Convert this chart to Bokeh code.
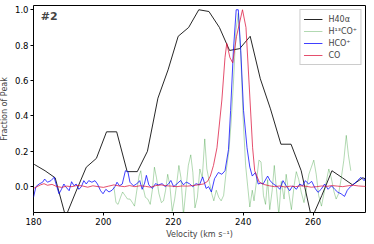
from bokeh.plotting import figure
from bokeh.models import Range1d, PrintfTickFormatter, Legend, LegendItem, Label, FixedTicker
from bokeh.embed import file_html
from bokeh.resources import INLINE

# H40alpha recombination line
h40_v = [177.4, 180.3, 183.3, 186.2, 189.2, 192.1, 195.1, 198.0, 200.9, 203.8, 206.8, 209.7,
         212.6, 215.6, 218.5, 221.4, 224.4, 227.3, 230.2, 233.2, 236.1, 239.0, 242.0, 244.9,
         247.8, 250.8, 253.7, 256.6, 259.6, 262.5, 265.4, 268.4, 271.3, 274.2, 277.2]
h40_f = [0.16, 0.125, 0.09, 0.05, -0.17, -0.03, 0.11, 0.16, 0.31, 0.31, 0.085, 0.085,
         0.20, 0.50, 0.66, 0.85, 0.90, 1.00, 0.99, 0.90, 0.77, 0.78, 0.85, 0.61,
         0.44, 0.24, 0.24, 0.09, -0.18, -0.05, 0.09, 0.05, 0.01, 0.05, 0.03]

# H13CO+
h13_v = [203.0, 203.6, 204.2, 204.9, 205.5, 206.2, 206.9, 207.6, 208.3, 208.9, 209.5, 210.2,
         210.7, 211.3, 212.0, 212.7, 213.4, 214.0, 214.6, 215.2, 215.9, 216.6, 217.2, 217.8,
         218.4, 219.0, 219.7, 220.4, 221.0, 221.6, 222.2, 222.9, 223.6, 224.3, 225.0, 225.6,
         226.2, 226.9, 227.6, 228.3, 229.0, 229.6, 230.3, 231.0, 231.6, 232.3, 233.0, 233.7,
         234.4, 235.2, 235.9, 236.5, 237.2, 237.9, 238.6, 239.3, 240.0, 240.7, 241.3, 241.9,
         242.6, 243.1, 243.8, 244.5, 245.1, 245.8, 246.4, 247.0, 247.6, 248.3, 248.9, 249.5,
         250.2, 250.9, 251.7, 252.3, 253.0, 253.8, 254.6, 255.2, 255.9, 256.6, 257.4, 258.1,
         258.8, 259.5, 260.2, 260.9, 261.6, 262.4, 263.1, 263.8, 264.5, 265.2, 266.0, 266.6,
         267.3, 268.0, 268.8, 269.5, 270.1, 270.8]
h13_f = [0.00, -0.09, -0.10, -0.06, -0.03, -0.05, -0.07, -0.07, -0.09, -0.11, -0.03, 0.06,
         0.09, 0.00, -0.06, -0.07, -0.10, -0.02, 0.11, 0.05, -0.04, -0.09, -0.08, -0.02,
         0.07, 0.01, -0.14, -0.07, 0.02, 0.12, 0.05, -0.16, -0.02, 0.12, 0.18, 0.08,
         -0.12, -0.06, 0.10, 0.05, 0.27, 0.10, 0.03, -0.04, -0.08, -0.02, -0.06, -0.08,
         -0.05, 0.10, 0.20, 0.35, 0.58, 0.88, 0.98, 0.75, 0.38, 0.12, 0.00, -0.115,
         -0.02, -0.08, 0.03, 0.15, 0.14, -0.05, -0.10, 0.04, -0.13, -0.02, 0.12, -0.01,
         -0.16, 0.03, -0.07, 0.07, -0.03, -0.13, 0.01, 0.085, 0.04, -0.03, -0.09, -0.01,
         0.07, 0.11, 0.15, 0.07, -0.05, -0.11, -0.04, 0.03, 0.10, 0.05, -0.03, -0.07,
         -0.04, 0.04, 0.15, 0.29, 0.18, 0.09]

# HCO+
hco_v = [180.0, 180.7, 181.6, 182.6, 183.2, 184.0, 185.0, 185.9, 186.6, 187.3, 188.0, 188.7,
         189.2, 190.2, 190.9, 191.6, 192.2, 193.0, 193.7, 194.4, 195.1, 195.8, 196.7, 197.6,
         198.3, 199.2, 199.9, 200.7, 201.6, 202.5, 203.3, 203.9, 204.6, 205.4, 206.3, 207.0,
         207.6, 208.6, 209.5, 210.4, 211.1, 211.8, 212.3, 213.0, 214.0, 214.9, 215.8, 216.8,
         217.7, 218.7, 219.3, 220.1, 221.1, 222.1, 222.9, 223.7, 224.6, 225.6, 226.5, 227.5,
         228.4, 229.4, 230.1, 230.9, 231.8, 232.9, 233.9, 234.8, 235.8, 236.4, 237.2, 238.0,
         238.6, 239.3, 240.1, 241.1, 241.9, 242.6, 243.5, 244.3, 245.0, 245.7, 247.0, 247.7,
         248.6, 249.5, 250.5, 251.4, 252.3, 253.3, 254.2, 255.2, 256.2, 257.0, 257.8, 258.7,
         259.6, 260.6, 261.4, 262.3, 263.3, 264.3, 265.3, 266.2, 267.1, 268.0, 269.0, 269.8,
         270.7, 271.7, 272.7, 273.7, 274.6, 275.3]
hco_f = [-0.06, 0.0, 0.015, 0.025, 0.043, 0.025, 0.034, 0.053, 0.005, -0.04, -0.015, 0.015,
         0.0, -0.023, 0.028, 0.005, 0.015, -0.015, 0.0, 0.034, 0.015, 0.034, 0.025, 0.034,
         0.015, -0.023, -0.04, -0.015, -0.03, -0.02, 0.0, 0.025, 0.005, 0.015, 0.09, 0.085,
         0.025, 0.005, 0.015, 0.034, -0.015, 0.02, 0.064, 0.01, -0.01, 0.017, 0.01, 0.017,
         0.0, 0.017, 0.035, 0.0, 0.017, 0.035, 0.01, 0.026, 0.017, 0.0, 0.017, 0.01,
         0.055, -0.01, 0.0, -0.03, 0.045, 0.08, 0.07, 0.09, 0.21, 0.43, 0.77, 1.0,
         1.0, 0.77, 0.43, 0.22, 0.11, 0.06, 0.08, 0.015, 0.02, 0.015, 0.06, 0.034,
         0.015, 0.005, -0.015, 0.034, 0.005, -0.023, 0.005, -0.015, 0.015, 0.005, 0.034, 0.015,
         0.03, -0.01, -0.032, -0.015, 0.015, -0.015, 0.005, -0.015, -0.032, -0.04, -0.055, -0.02,
         0.0, 0.015, 0.034, 0.053, 0.034, 0.06]

# CO
co_v = [180.0, 181.0, 182.0, 183.0, 184.0, 185.3, 186.5, 188.0, 189.5, 191.0, 192.5, 194.0,
        195.5, 197.0, 198.5, 200.0, 201.5, 203.0, 204.5, 206.0, 207.5, 209.0, 210.5, 212.0,
        213.5, 215.0, 216.5, 218.0, 219.5, 221.0, 222.5, 224.0, 225.5, 227.0, 228.6, 229.8,
        230.6, 231.5, 232.5, 233.9, 234.8, 235.3, 236.2, 237.0, 238.1, 239.8, 240.8, 241.7,
        242.7, 243.3, 244.6, 246.0, 247.5, 249.0, 250.5, 252.0, 253.5, 255.0, 256.5, 258.0,
        259.5, 261.0, 262.5, 264.0, 265.5, 267.0, 268.5, 270.0, 271.5, 273.0, 274.5, 276.0]
co_f = [-0.01, 0.0, 0.01, 0.017, 0.008, 0.013, 0.002, -0.004, 0.003, 0.0, 0.007, 0.004,
        -0.003, 0.005, 0.0, -0.004, 0.003, 0.01, 0.004, 0.0, 0.006, 0.0, 0.005, 0.002,
        -0.003, 0.006, 0.01, 0.005, 0.003, 0.0, 0.004, 0.003, 0.006, 0.01, 0.015, 0.03,
        0.06, 0.12, 0.22, 0.49, 0.73, 0.81, 0.73, 0.70, 0.85, 1.0, 0.90, 0.58,
        0.22, 0.09, 0.026, 0.012, 0.005, 0.0, 0.004, -0.002, 0.003, 0.0, 0.005, 0.002,
        -0.003, 0.0, 0.004, 0.002, 0.006, 0.003, 0.0, 0.005, 0.008, 0.004, 0.002, 0.0]

x_ticks = [180, 200, 220, 240, 260]
y_ticks = [0.0, 0.2, 0.4, 0.6, 0.8, 1.0]
series_labels = ["H40α", "H¹³CO⁺", "HCO⁺", "CO"]

FONT = "DejaVu Sans"

p = figure(width=374, height=244, output_backend="svg", toolbar_location=None,
           x_range=Range1d(180, 275), y_range=Range1d(-0.146, 1.024),
           min_border_left=34, min_border_right=5, min_border_top=5, min_border_bottom=32)
p.margin = (0, 0, 0, -4)
p.xgrid.visible = False
p.ygrid.visible = False
p.outline_line_color = "black"
p.outline_line_width = 1
p.background_fill_color = "white"
p.border_fill_color = "white"

r1 = p.line(h40_v, h40_f, line_color="black", line_alpha=0.85, line_width=1)
r2 = p.line(h13_v, h13_f, line_color="#008000", line_alpha=0.3, line_width=1)
r3 = p.line(hco_v, hco_f, line_color="blue", line_alpha=0.75, line_width=1)
r4 = p.line(co_v, co_f, line_color="crimson", line_alpha=0.75, line_width=1)

for ax in (p.xaxis[0], p.yaxis[0]):
    ax.minor_tick_line_color = None
    ax.major_tick_out = 3
    ax.major_tick_in = 0
    ax.major_label_standoff = 2
    ax.major_label_text_font = FONT
    ax.major_label_text_font_size = "8.5px"
    ax.major_label_text_color = "black"
    ax.axis_label_text_font = FONT
    ax.axis_label_text_font_size = "8px"
    ax.axis_label_text_font_style = "normal"
    ax.axis_line_color = None

p.xaxis[0].ticker = FixedTicker(ticks=x_ticks)
p.yaxis[0].ticker = FixedTicker(ticks=y_ticks)
p.yaxis[0].formatter = PrintfTickFormatter(format="%.1f")
p.xaxis[0].axis_label = "Velocity (km s⁻¹)"
p.yaxis[0].axis_label = "Fraction of Peak"
p.xaxis[0].axis_label_standoff = 2
p.yaxis[0].axis_label_standoff = 3

legend = Legend(items=[LegendItem(label=l, renderers=[r]) for l, r in zip(series_labels, [r1, r2, r3, r4])],
                location="top_right", margin=4, padding=3, spacing=0,
                label_height=12, glyph_height=12, glyph_width=19, label_standoff=6,
                label_text_font=FONT, label_text_font_size="8px",
                border_line_color="#cccccc", border_line_alpha=1.0,
                background_fill_alpha=0.8)
p.add_layout(legend)

p.add_layout(Label(x=182.1, y=1.0, text="#2", text_font=FONT, text_font_size="11px",
                   text_font_style="bold", text_baseline="top"))

open("out.html", "w").write(file_html(p, INLINE))
